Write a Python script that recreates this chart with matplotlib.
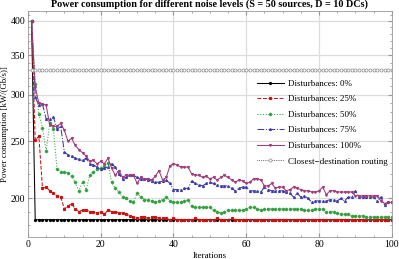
import matplotlib
matplotlib.use("Agg")
import matplotlib.pyplot as plt
from matplotlib.ticker import FixedLocator, NullFormatter

plt.rcParams['font.family'] = ['Liberation Serif', 'DejaVu Serif']

iterations = list(range(1, 101))

dist_0 = [400, 184, 184, 184, 184, 184, 184, 184, 184, 184,
          184, 184, 184, 184, 184, 184, 184, 184, 184, 184,
          184, 184, 184, 184, 184, 184, 184, 184, 184, 184,
          184, 184, 184, 184, 184, 184, 184, 184, 184, 184,
          184, 184, 184, 184, 184, 184, 184, 184, 184, 184,
          184, 184, 184, 184, 184, 184, 184, 184, 184, 184,
          184, 184, 184, 184, 184, 184, 184, 184, 184, 184,
          184, 184, 184, 184, 184, 184, 184, 184, 184, 184,
          184, 184, 184, 184, 184, 184, 184, 184, 184, 184,
          184, 184, 184, 184, 184, 184, 184, 184, 184, 184]

dist_25 = [400, 251, 255, 208, 209, 206, 204, 202, 201, 192,
           194, 196, 192, 190, 191, 191, 190, 190, 189, 190,
           188, 191, 190, 190, 189, 189, 188, 187, 186, 185,
           186, 186, 185, 186, 186, 185, 185, 185, 184, 185,
           184, 184, 184, 184, 184, 185, 184, 184, 184, 184,
           184, 185, 184, 184, 184, 185, 184, 184, 184, 184,
           184, 184, 184, 184, 184, 184, 184, 184, 184, 184,
           184, 184, 184, 184, 184, 184, 184, 184, 184, 184,
           184, 184, 184, 184, 184, 184, 184, 184, 184, 184,
           184, 184, 184, 184, 184, 184, 184, 184, 184, 184]

dist_50 = [400, 313, 278, 263, 241, 268, 262, 224, 222, 222,
           221, 218, 213, 206, 213, 207, 219, 222, 224, 225,
           227, 230, 213, 208, 205, 201, 200, 198, 197, 204,
           201, 199, 199, 198, 197, 198, 199, 201, 198, 197,
           197, 197, 198, 199, 194, 193, 193, 193, 193, 193,
           191, 190, 189, 190, 191, 191, 191, 191, 191, 192,
           193, 193, 192, 191, 192, 192, 192, 192, 192, 192,
           192, 192, 192, 192, 192, 191, 191, 191, 192, 192,
           192, 190, 190, 190, 189, 188, 188, 188, 187, 187,
           187, 187, 186, 186, 186, 186, 186, 186, 186, 186]

dist_75 = [400, 297, 288, 289, 273, 273, 275, 262, 265, 240,
           237, 236, 234, 233, 232, 234, 229, 228, 226, 224,
           225, 226, 229, 226, 220, 216, 217, 219, 219, 217,
           216, 216, 215, 214, 213, 213, 214, 215, 212, 207,
           207, 207, 208, 208, 214, 212, 211, 210, 212, 213,
           212, 211, 210, 210, 210, 208, 206, 208, 209, 209,
           206, 206, 206, 205, 209, 207, 206, 206, 206, 206,
           205, 204, 201, 204, 201, 202, 200, 197, 198, 198,
           198, 198, 199, 199, 198, 200, 198, 201, 201, 206,
           201, 201, 201, 201, 201, 198, 201, 195, 197, 197]

dist_100 = [400, 309, 290, 289, 288, 266, 265, 265, 268, 261,
            250, 253, 246, 242, 239, 236, 231, 232, 229, 231,
            229, 234, 225, 219, 223, 217, 219, 219, 219, 212,
            217, 216, 216, 215, 218, 223, 215, 217, 227, 229,
            228, 226, 226, 226, 220, 219, 219, 217, 218, 216,
            217, 215, 217, 219, 217, 215, 213, 215, 214, 212,
            213, 216, 216, 215, 210, 210, 212, 208, 209, 209,
            206, 207, 209, 208, 207, 206, 206, 205, 205, 206,
            209, 203, 206, 206, 205, 205, 205, 205, 205, 202,
            202, 202, 202, 202, 202, 202, 198, 196, 197, 197]

closest = [330] * 100

series = [
    ("Disturbances: 0%", dist_0, "black", "-", "o"),
    ("Disturbances: 25%", dist_25, "#cc1111", "--", "s"),
    ("Disturbances: 50%", dist_50, "#33a040", ":", "D"),
    ("Disturbances: 75%", dist_75, "#3a3aaa", "-.", "^"),
    ("Disturbances: 100%", dist_100, "#a03a78", "-", "v"),
]

fig = plt.figure(figsize=(3.99, 2.59), dpi=100)
ax = fig.add_axes([0.070, 0.085, 0.912, 0.873])

for label, vals, color, ls, mk in series:
    ax.plot(iterations, vals, color=color, linestyle=ls, linewidth=0.75,
            marker=mk, markersize=1.3, label=label)

ax.plot(iterations, closest, color="black", linestyle=":", linewidth=0.5,
        marker="o", markersize=2.2, markerfacecolor="white",
        markeredgecolor="#999999", markeredgewidth=0.6,
        label="Closest\u2212destination routing")

ax.set_yscale("log")
ax.set_xlim(0, 100)
ax.set_ylim(172, 416)

ax.yaxis.set_major_locator(FixedLocator([200, 250, 300, 350, 400]))
ax.yaxis.set_minor_locator(FixedLocator([180, 190, 210, 220, 230, 240, 260, 270, 280, 290,
                                          310, 320, 330, 340, 360, 370, 380, 390, 410]))
ax.yaxis.set_major_formatter(plt.FuncFormatter(lambda v, p: f"{v:.0f}"))
ax.yaxis.set_minor_formatter(NullFormatter())
ax.xaxis.set_major_locator(FixedLocator([0, 20, 40, 60, 80, 100]))
ax.xaxis.set_minor_locator(FixedLocator(range(5, 100, 5)))

ax.grid(True, which="major", color="#dddddd", linewidth=0.9)
ax.set_axisbelow(True)
for s in ax.spines.values():
    s.set_color("#999999")
    s.set_linewidth(0.6)
ax.tick_params(which="both", direction="in", top=True, right=True,
               color="#999999", labelsize=7, pad=2)
ax.tick_params(which="major", length=3)
ax.tick_params(which="minor", length=1.5)

ax.set_title("Power consumption for different noise levels (S = 50 sources, D = 10 DCs)",
             fontsize=7.3, fontweight="bold", pad=3)
ax.set_xlabel("Iterations", fontsize=6.5, labelpad=2)
ax.set_ylabel("Power consumption [kW/(Gb/s)]", fontsize=6.3)
ax.yaxis.set_label_coords(-0.053, 0.5)

ax.legend(loc="upper left", bbox_to_anchor=(252 / 399, 1 - 75 / 259),
          bbox_transform=fig.transFigure, frameon=False, fontsize=6.5,
          handlelength=3.0, handletextpad=0.5, labelspacing=0.8, borderpad=0)

fig.savefig("out.png", dpi=100)
